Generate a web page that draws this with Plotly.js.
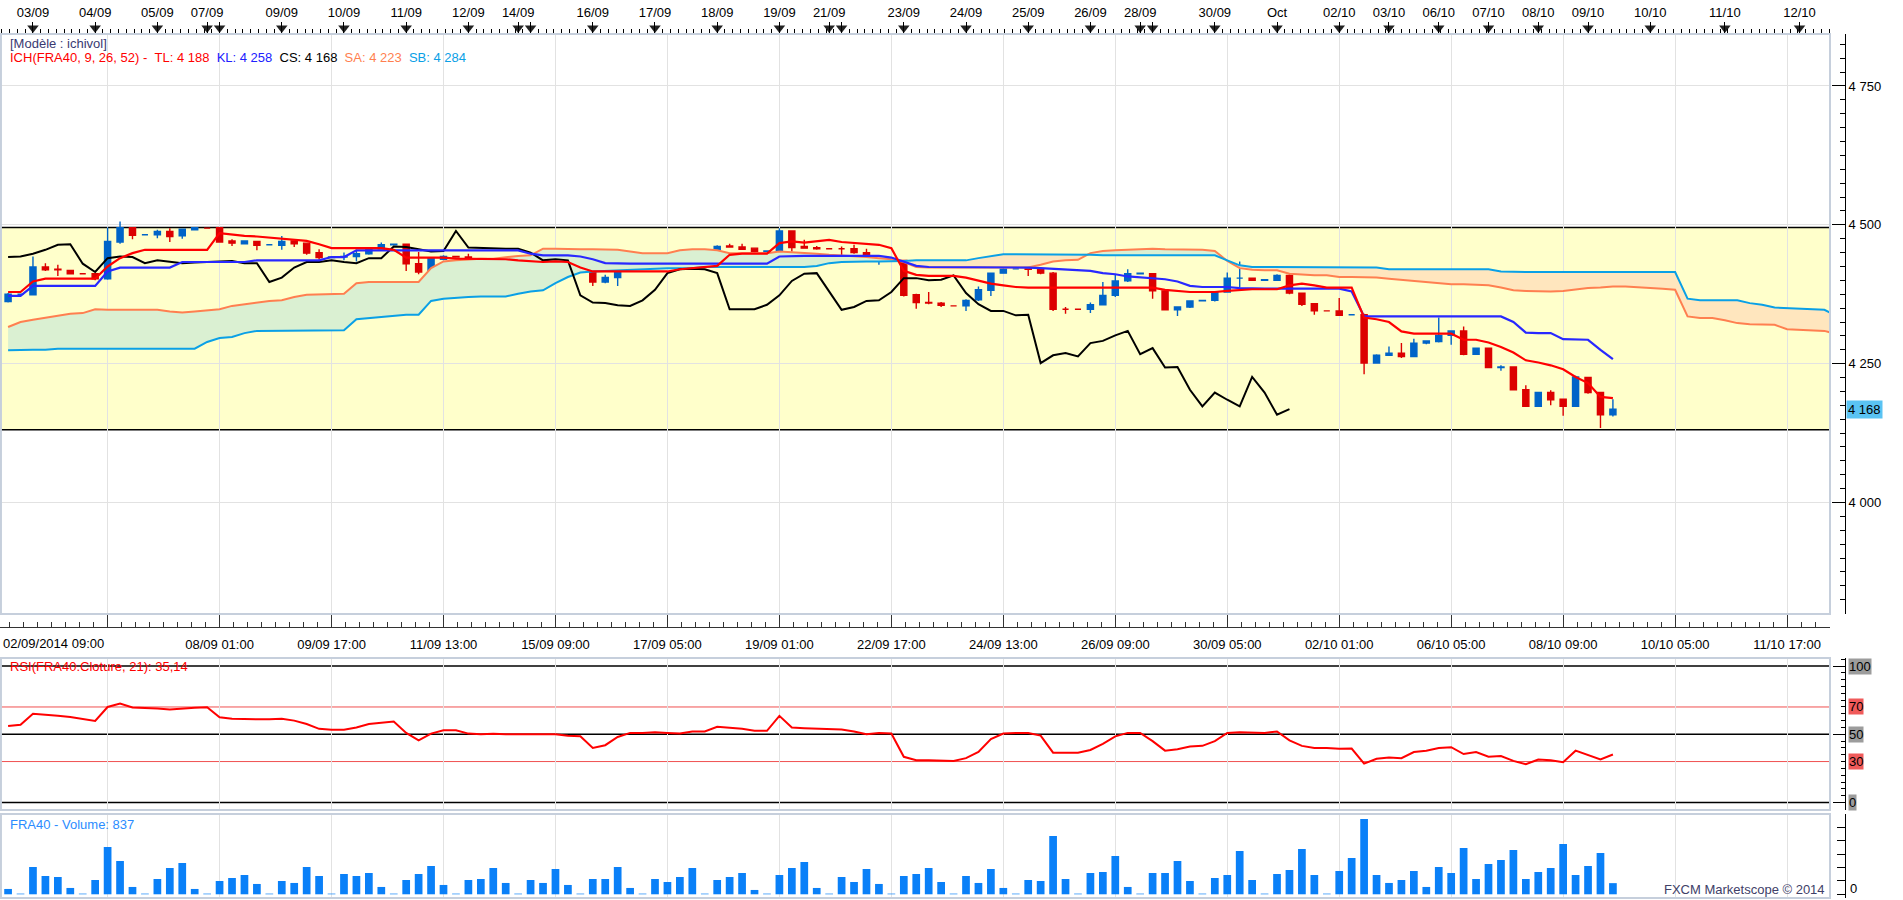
<!DOCTYPE html>
<html><head><meta charset="utf-8">
<script src="https://cdn.plot.ly/plotly-3.0.1.min.js"></script>
<style>html,body{margin:0;padding:0;background:#fff;overflow:hidden}#chart{width:1903px;height:900px}</style>
</head><body><div id="chart"></div>
<script>
// ---------- data ----------
const openP = [4362,4375,4374,4424,4420,4418,4412,4412,4403,4469,
 4495,4482,4482,4488,4480,4491,4494,4495,4471,4466,
 4470,4464,4463,4471,4467,4450,4441,4442,4443,4448,
 4457,4464,4465,4430,4414,4438,4443,4442,4430,4435,
 4434,4432,4432,4433,4433,4435,4431,4430,4397,4405,
 4423,4432,4433,4437,4434,4430,4440,4440,4462,4460,
 4458,4452,4453,4489,4461,4459,4457,4457,4457,4450,
 4435,4437,4436,4374,4360,4359,4354,4354,4365,4382,
 4413,4421,4421,4421,4413,4348,4348,4348,4356,4373,
 4399,4412,4412,4381,4347,4352,4363,4364,4379,4404,
 4404,4400,4400,4409,4377,4358,4345,4345,4338,4338,
 4251,4265,4269,4263,4287,4290,4301,4309,4267,4278,
 4243,4244,4203,4173,4198,4186,4173,4225,4198,4158];
const highP = [4377,4376,4443,4431,4428,4419,4413,4413,4495,4506,
 4496,4483,4491,4494,4493,4496,4495,4496,4474,4472,
 4471,4465,4480,4472,4468,4456,4442,4450,4455,4456,
 4468,4466,4466,4451,4441,4445,4444,4448,4437,4437,
 4435,4433,4434,4435,4436,4436,4432,4431,4410,4429,
 4436,4434,4440,4440,4441,4452,4441,4463,4466,4466,
 4459,4453,4494,4490,4473,4462,4458,4461,4464,4457,
 4440,4438,4437,4376,4379,4361,4355,4366,4389,4414,
 4422,4422,4422,4422,4415,4352,4349,4360,4397,4411,
 4420,4413,4413,4384,4353,4364,4364,4380,4414,4434,
 4405,4401,4411,4411,4378,4359,4346,4368,4339,4340,
 4267,4281,4287,4295,4292,4333,4310,4317,4279,4279,
 4247,4245,4211,4199,4202,4187,4228,4226,4199,4186];
const lowP = [4360,4374,4373,4417,4408,4411,4411,4400,4401,4466,
 4474,4481,4476,4469,4475,4490,4493,4468,4462,4465,
 4454,4463,4455,4460,4446,4437,4440,4436,4434,4446,
 4456,4463,4417,4411,4413,4436,4441,4430,4428,4418,
 4428,4431,4419,4420,4418,4429,4430,4390,4395,4390,
 4422,4431,4422,4432,4429,4429,4439,4439,4459,4456,
 4450,4451,4452,4452,4457,4455,4456,4437,4448,4433,
 4428,4436,4371,4349,4357,4352,4353,4345,4363,4372,
 4412,4420,4408,4411,4345,4340,4347,4341,4355,4370,
 4397,4411,4367,4346,4336,4350,4362,4362,4378,4387,
 4399,4399,4399,4375,4354,4338,4344,4336,4337,4231,
 4250,4264,4260,4262,4285,4288,4284,4265,4266,4242,
 4237,4202,4172,4172,4175,4156,4172,4196,4134,4155];
const closeP = [4375,4375,4424,4419,4419,4412,4412,4403,4470,4495,
 4481,4482,4488,4479,4492,4495,4494,4469,4467,4471,
 4463,4464,4470,4466,4449,4441,4442,4443,4448,4455,
 4464,4465,4430,4415,4440,4443,4442,4431,4436,4434,
 4431,4432,4433,4434,4435,4431,4431,4397,4405,4423,
 4433,4433,4436,4433,4431,4440,4440,4461,4460,4456,
 4452,4453,4489,4459,4458,4457,4457,4457,4450,4436,
 4438,4436,4373,4360,4359,4355,4354,4364,4383,4413,
 4420,4421,4420,4413,4348,4348,4348,4356,4373,4399,
 4412,4413,4381,4347,4352,4363,4364,4379,4404,4404,
 4400,4401,4409,4377,4357,4345,4345,4337,4338,4251,
 4265,4269,4263,4287,4291,4301,4309,4267,4278,4243,
 4244,4203,4173,4198,4185,4173,4226,4198,4158,4168];
const tenkan = [4379,4379,4398,4403,4403,4403,4403,4403,4425,4440,
 4449,4455,4455,4455,4455,4455,4455,4485,4482,4480,
 4479,4477,4476,4474,4471,4465,4458,4458,4458,4458,
 4458,4455,4441,4441,4441,4441,4439,4439,4439,4439,
 4438,4436,4434,4433,4434,4433,4423,4416,4416,4416,
 4416,4416,4416,4416,4420,4422,4424,4426,4446,4448,
 4448,4448,4467,4470,4468,4471,4473,4469,4467,4466,
 4464,4458,4417,4410,4408,4408,4408,4405,4399,4394,
 4391,4388,4387,4387,4387,4387,4387,4387,4387,4387,
 4387,4387,4387,4383,4381,4379,4379,4379,4381,4383,
 4384,4384,4384,4391,4394,4391,4387,4387,4387,4333,
 4330,4325,4308,4304,4304,4304,4304,4293,4293,4288,
 4280,4270,4256,4252,4247,4240,4226,4215,4190,4188];
const kijun = [4372,4372,4390,4390,4390,4390,4390,4390,4416,4423,
 4423,4423,4423,4423,4433,4433,4433,4433,4433,4433,
 4436,4436,4436,4436,4436,4436,4442,4442,4454,4454,
 4454,4454,4454,4454,4454,4454,4454,4454,4454,4454,
 4454,4454,4448,4445,4445,4445,4443,4438,4431,4430,
 4430,4430,4430,4430,4430,4430,4430,4430,4430,4430,
 4430,4430,4443,4444,4444,4444,4444,4444,4444,4444,
 4444,4441,4433,4426,4424,4424,4424,4424,4424,4423,
 4423,4423,4423,4422,4421,4420,4419,4417,4413,4411,
 4407,4405,4403,4402,4398,4390,4388,4388,4388,4386,
 4385,4385,4385,4385,4385,4385,4385,4385,4380,4335,
 4335,4335,4335,4335,4335,4335,4335,4335,4335,4335,
 4335,4325,4306,4305,4305,4294,4293,4293,4275,4258];
const senkouA = [4316,4325,4329,4333,4337,4340,4341,4348,4347,4347,
 4347,4347,4347,4344,4342,4344,4346,4348,4354,4357,
 4360,4363,4364,4370,4374,4375,4376,4376,4395,4397,
 4397,4397,4397,4397,4422,4434,4436,4438,4439,4439,
 4442,4444,4445,4457,4457,4456,4456,4456,4455,4455,
 4452,4449,4449,4449,4454,4456,4456,4454,4449,4449,
 4449,4449,4452,4451,4449,4448,4446,4445,4443,4442,
 4440,4438,4433,4424,4423,4423,4423,4423,4423,4423,
 4423,4423,4423,4428,4434,4436,4437,4449,4453,4454,
 4455,4456,4457,4456,4456,4455,4455,4453,4435,4422,
 4419,4418,4418,4412,4410,4409,4409,4406,4406,4406,
 4405,4403,4401,4399,4397,4396,4393,4393,4392,4391,
 4387,4382,4381,4380,4380,4381,4384,4386,4387,4389,
 4389,4388,4386,4385,4383,4335,4332,4332,4328,4323,
 4321,4320,4320,4312,4311,4310,4309,4303];
const senkouB = [4274,4275,4275,4275,4277,4277,4277,4277,4277,4277,
 4277,4277,4277,4277,4277,4277,4289,4296,4298,4305,
 4309,4309,4309,4309,4309,4309,4309,4310,4330,4332,
 4334,4336,4338,4338,4363,4367,4369,4370,4371,4371,
 4371,4376,4380,4382,4395,4406,4414,4416,4417,4419,
 4420,4421,4421,4422,4422,4422,4424,4424,4424,4424,
 4424,4424,4424,4424,4424,4426,4431,4433,4434,4434,
 4434,4434,4435,4436,4436,4436,4436,4436,4440,4443,
 4447,4447,4447,4447,4447,4447,4447,4446,4445,4445,
 4445,4445,4445,4445,4445,4445,4445,4445,4436,4427,
 4424,4424,4424,4423,4423,4423,4423,4423,4423,4423,
 4423,4420,4420,4420,4420,4420,4420,4420,4420,4420,
 4416,4415,4415,4415,4415,4415,4415,4415,4415,4415,
 4415,4415,4415,4415,4415,4367,4364,4364,4364,4364,
 4359,4356,4351,4350,4349,4348,4347,4336];
const rsi = [56,57,65,64.5,63.5,62.7,61.5,59.8,70,72.5,
 69.6,69.3,68.8,68.1,69,69.5,69.8,62.5,61.3,61,
 61,61,61.3,60,57.5,54,53.4,53.4,55,57.5,
 58.5,59.3,51,45.6,50.5,52.9,53,50.5,50,50.3,
 50,50,49.5,49.8,50,49,48.5,40,42,48,
 51,51,51.5,51,50.5,52,52,55.5,55,54,
 52.5,52.5,63.5,55,54.5,54,54,53.5,52,50,
 51,50.5,33.5,31,31,30.5,30.5,32.5,37,46.5,
 50.5,51,51,49,36.5,36.5,36.5,38.5,43,48.5,
 51,51,45,38,39,41,41.5,45,51,51.5,
 51,51,52,45.5,41.5,40,40,39.3,39.5,28.5,
 32,33,32.5,37,38,40,40.5,35.5,37,33.5,
 34,30.5,28,31.5,31,29.5,38,35,31.5,35.14];
const volume = [400,50,2050,1375,1300,475,50,1075,3550,2500,
 550,50,1150,1975,2350,400,50,1000,1225,1450,
 775,50,1000,850,2050,1375,50,1525,1375,1600,
 550,50,1075,1525,2125,700,50,1075,1150,1975,
 850,50,1075,850,1900,700,50,1150,1150,2050,
 475,50,1150,925,1300,1975,50,1075,1300,1600,
 325,50,1450,1975,2425,475,50,1300,925,1900,
 775,50,1375,1525,1975,925,50,1375,850,1900,
 475,50,1075,1000,4375,1150,50,1600,1675,2875,
 550,50,1600,1600,2500,1000,50,1225,1450,3250,
 1075,50,1525,1825,3400,1450,50,1750,2725,5650,
 1450,850,1075,1750,550,2050,1600,3475,1150,2275,
 2575,3325,1150,1675,1975,3775,1450,2125,3100,837];
const dayTickIdx = [2,7,12,16,17,22,27,32,37,41,42,47,52,57,62,66,67,72,77,82,87,91,92,97,102,107,111,115,119,123,127,132,138,144];
const dayTickText = ['03/09','04/09','05/09','07/09','','09/09','10/09','11/09','12/09','14/09','','16/09','17/09','18/09','19/09','21/09','','23/09','24/09','25/09','26/09','28/09','','30/09','Oct','02/10','03/10','06/10','07/10','08/10','09/10','10/10','11/10','12/10'];
const timeTickIdx = [8,17,26,35,44,53,62,71,80,89,98,107,116,125,134,143];
const timeTickText = ['','08/09 01:00','09/09 17:00','11/09 13:00','15/09 09:00','17/09 05:00','19/09 01:00','22/09 17:00','24/09 13:00','26/09 09:00','30/09 05:00','02/10 01:00','06/10 05:00','08/10 09:00','10/10 05:00','11/10 17:00'];
const firstTimeLabel = '02/09/2014 09:00';
const priceTicks = [4000,4250,4500,4750];
const priceTickText = ['4 000','4 250','4 500','4 750'];
const rsiLevels = [100,70,50,30,0];
const bandTop = 4495, bandBottom = 4131;
const chikouShift = 26;
const legendSA = '4 223', legendSB = '4 284';

// ---------- helpers ----------
const W = 1903, H = 900;
const py = p => 1 - p / H;
const XD = 1830 / W;
const AXPOS = 1845 / W;
const XR = [-0.65, 146.45];
const barIdx = closeP.map((_, i) => i);
const kumoIdx = senkouA.map((_, i) => i);
const kumoTop = senkouA.map((a, i) => Math.max(a, senkouB[i]));
const fmt = v => { const s = String(Math.round(v)); return s.length > 3 ? s.slice(0, s.length - 3) + ' ' + s.slice(-3) : s; };
const last = a => a[a.length - 1];
const NB = '\u00a0';
const FONT = 'Liberation Sans, Arial, sans-serif';
const UP = '#0064c8', DN = '#dc0000';
const GREEN = 'rgb(218,240,210)', ORANGE = 'rgb(255,230,190)';
const SA_C = '#ff7f50', SB_C = '#0aa0e6';

const traces = [
  {type:'scatter', x:kumoIdx, y:senkouB, mode:'lines', line:{width:0}, hoverinfo:'skip', showlegend:false},
  {type:'scatter', x:kumoIdx, y:kumoTop, mode:'lines', line:{width:0}, fill:'tonexty', fillcolor:GREEN, hoverinfo:'skip', showlegend:false},
  {type:'scatter', x:kumoIdx, y:senkouA, mode:'lines', line:{width:0}, hoverinfo:'skip', showlegend:false},
  {type:'scatter', x:kumoIdx, y:kumoTop, mode:'lines', line:{width:0}, fill:'tonexty', fillcolor:ORANGE, hoverinfo:'skip', showlegend:false},
  {type:'scatter', x:kumoIdx, y:senkouA, mode:'lines', line:{color:SA_C, width:2}, hoverinfo:'skip', showlegend:false},
  {type:'scatter', x:kumoIdx, y:senkouB, mode:'lines', line:{color:SB_C, width:2}, hoverinfo:'skip', showlegend:false},
  {type:'scatter', x:barIdx.slice(chikouShift).map(i => i - chikouShift), y:closeP.slice(chikouShift), mode:'lines', line:{color:'#000', width:2}, hoverinfo:'skip', showlegend:false},
  {type:'scatter', x:barIdx, y:kijun, mode:'lines', line:{color:'#2828ff', width:2.2}, hoverinfo:'skip', showlegend:false},
  {type:'scatter', x:barIdx, y:tenkan, mode:'lines', line:{color:'#ff0000', width:2.2}, hoverinfo:'skip', showlegend:false},
  {type:'candlestick', x:barIdx, open:openP, high:highP, low:lowP, close:closeP, xaxis:'x', yaxis:'y',
   increasing:{line:{color:UP, width:1.4}, fillcolor:UP}, decreasing:{line:{color:DN, width:1.4}, fillcolor:DN},
   whiskerwidth:0, hoverinfo:'skip', showlegend:false},
  {type:'scatter', x:barIdx, y:rsi, xaxis:'x2', yaxis:'y2', mode:'lines', line:{color:'#ff0000', width:2}, hoverinfo:'skip', showlegend:false},
  {type:'bar', x:barIdx, y:volume, xaxis:'x3', yaxis:'y3', width:0.62, marker:{color:'#0a80f8', line:{width:0}}, hoverinfo:'skip', showlegend:false},
  {type:'scatter', x:dayTickIdx, y:dayTickIdx.map(() => 5), xaxis:'x4', yaxis:'y4', mode:'markers', marker:{symbol:'triangle-down', size:10, color:'#222'}, hoverinfo:'skip', showlegend:false, cliponaxis:false},
  {type:'scatter', x:[], y:[], xaxis:'x5', yaxis:'y5', mode:'markers', hoverinfo:'skip', showlegend:false}
];

const gridX = {tickmode:'array', tickvals:timeTickIdx, showticklabels:false, ticks:'', showgrid:true, gridcolor:'#e2e2e2', gridwidth:1, zeroline:false, showline:false, fixedrange:true};

const layout = {
  width:W, height:H, margin:{l:0, r:0, t:0, b:0}, paper_bgcolor:'#fff', plot_bgcolor:'#fff',
  font:{family:FONT, size:13, color:'#000'}, showlegend:false, dragmode:false,
  xaxis: Object.assign({domain:[0, XD], range:XR, anchor:'y', rangeslider:{visible:false}}, gridX),
  xaxis2: Object.assign({domain:[0, XD], range:XR, anchor:'y2', matches:'x'}, gridX),
  xaxis3: Object.assign({domain:[0, XD], range:XR, anchor:'y3', matches:'x'}, gridX),
  xaxis4: {domain:[0, XD], range:XR, anchor:'free', position:py(33), side:'top', tickmode:'array', tickvals:dayTickIdx, ticktext:dayTickText,
    ticks:'outside', ticklen:11, tickcolor:'#000', tickwidth:1, showline:true, linecolor:'#000', linewidth:1, showgrid:false, zeroline:false,
    tickfont:{size:13, color:'#000'}, minor:{tickmode:'linear', tick0:2, dtick:0.625, ticks:'outside', ticklen:4, tickcolor:'#000', showgrid:false}, fixedrange:true},
  xaxis5: {domain:[0, XD], range:XR, anchor:'free', position:py(627), side:'bottom', tickmode:'array', tickvals:timeTickIdx, ticktext:timeTickText,
    ticks:'inside', ticklen:12, tickcolor:'#333', showline:true, linecolor:'#333', linewidth:1, showgrid:false, zeroline:false, ticklabelstandoff:5,
    tickfont:{size:13, color:'#000'}, minor:{tickmode:'linear', tick0:8, dtick:1.125, ticks:'inside', ticklen:5, tickcolor:'#333', showgrid:false}, fixedrange:true},
  yaxis: {domain:[py(614), py(34)], range:[3799.2, 4843.6], anchor:'free', position:AXPOS, side:'right', tickmode:'array', tickvals:priceTicks, ticktext:priceTickText,
    ticks:'inside', ticklen:13, tickcolor:'#000', showline:true, linecolor:'#000', linewidth:1, showgrid:true, gridcolor:'#e2e2e2', zeroline:false,
    minor:{tickmode:'linear', tick0:4000, dtick:25, ticks:'inside', ticklen:5, tickcolor:'#000', showgrid:false}, tickfont:{size:13}, fixedrange:true},
  yaxis2: {domain:[py(810), py(658)], range:[-5.5, 105.9], anchor:'free', position:AXPOS, side:'right', tickmode:'array', tickvals:[0,50,100], showticklabels:false,
    ticks:'inside', ticklen:12, tickcolor:'#000', showline:true, linecolor:'#000', showgrid:false, zeroline:false,
    minor:{tickmode:'linear', tick0:0, dtick:5, ticks:'inside', ticklen:4, tickcolor:'#000'}, fixedrange:true},
  yaxis3: {domain:[py(898), py(814)], range:[-278, 6024], anchor:'free', position:AXPOS, side:'right', tickmode:'linear', tick0:0, dtick:1000, showticklabels:false,
    ticks:'inside', ticklen:8, tickcolor:'#000', showline:true, linecolor:'#000', showgrid:false, zeroline:false, fixedrange:true},
  yaxis4: {domain:[py(33), 1], range:[0, 33], anchor:'x4', visible:false, fixedrange:true},
  yaxis5: {domain:[py(627), py(614)], range:[0, 1], anchor:'x5', visible:false, fixedrange:true},
  shapes: [],
  annotations: []
};

// yellow band and its borders
layout.shapes.push({type:'rect', xref:'paper', x0:0, x1:XD, yref:'y', y0:bandBottom, y1:bandTop, fillcolor:'rgba(255,255,190,0.8)', line:{width:0}, layer:'between'});
[bandTop, bandBottom].forEach(v => layout.shapes.push({type:'line', xref:'paper', x0:0, x1:XD, yref:'y', y0:v, y1:v, line:{color:'#000', width:1.5}, layer:'between'}));
// RSI levels
rsiLevels.forEach(v => {
  const red = (v === 70 || v === 30);
  layout.shapes.push({type:'line', xref:'paper', x0:0, x1:XD, yref:'y2', y0:v, y1:v, line:{color: red ? '#f05050' : '#000', width: red ? 1 : 1.5}, layer:'between'});
});
// panel frames
[[614,34],[810,658],[898,814]].forEach(([b,t]) => layout.shapes.push({type:'rect', xref:'paper', yref:'paper', x0:0.0005, x1:XD, y0:py(b), y1:py(t), line:{color:'#c6cfdc', width:2}, fillcolor:'rgba(0,0,0,0)', layer:'above'}));

const ann = (o) => layout.annotations.push(Object.assign({showarrow:false, xanchor:'left', yanchor:'middle', font:{family:FONT, size:13}}, o));
ann({xref:'paper', yref:'paper', x:8/W, y:py(43), text:'[Modèle : ichivol]', font:{family:FONT, size:13, color:'#3a3a72'}});
ann({xref:'paper', yref:'paper', x:8/W, y:py(58),
  text:'<span style="color:#ff0000">ICH(FRA40, 9, 26, 52) -' + NB + NB + 'TL: ' + fmt(last(tenkan)) + '</span>' + NB + NB +
       '<span style="color:#2020ff">KL: ' + fmt(last(kijun)) + '</span>' + NB + NB +
       '<span style="color:#000000">CS: ' + fmt(last(closeP)) + '</span>' + NB + NB +
       '<span style="color:' + SA_C + '">SA: ' + legendSA + '</span>' + NB + NB +
       '<span style="color:' + SB_C + '">SB: ' + legendSB + '</span>'});
ann({xref:'paper', yref:'paper', x:8/W, y:py(666), text:'RSI(FRA40.Cloture, 21): ' + String(last(rsi)).replace('.', ','), font:{family:FONT, size:13, color:'#ff0000'}});
ann({xref:'paper', yref:'paper', x:8/W, y:py(824), text:'FRA40 - Volume: ' + last(volume), font:{family:FONT, size:13, color:'#2b8cff'}});
ann({xref:'paper', yref:'paper', x:1827/W, y:py(889), xanchor:'right', text:'FXCM Marketscope © 2014', font:{family:FONT, size:13, color:'#404068'}});
ann({xref:'paper', yref:'paper', x:1/W, y:py(643), text:firstTimeLabel, font:{family:FONT, size:13, color:'#000'}});
ann({xref:'paper', yref:'y', x:1846/W, y:last(closeP), text:fmt(last(closeP)), bgcolor:'#5ac3f3', borderpad:1, font:{family:FONT, size:13, color:'#000'}});
rsiLevels.forEach(v => {
  const red = (v === 70 || v === 30);
  ann({xref:'paper', yref:'y2', x:1848/W, y:v, text:String(v), bgcolor: red ? '#f05a5a' : '#9c9c9c', borderpad:0, font:{family:FONT, size:13, color:'#000'}});
});
ann({xref:'paper', yref:'paper', x:1848/W, y:py(898), yanchor:'bottom', text:'0', font:{family:FONT, size:13, color:'#000'}});

Plotly.newPlot('chart', traces, layout, {staticPlot:true, displayModeBar:false});
</script>
</body></html>
